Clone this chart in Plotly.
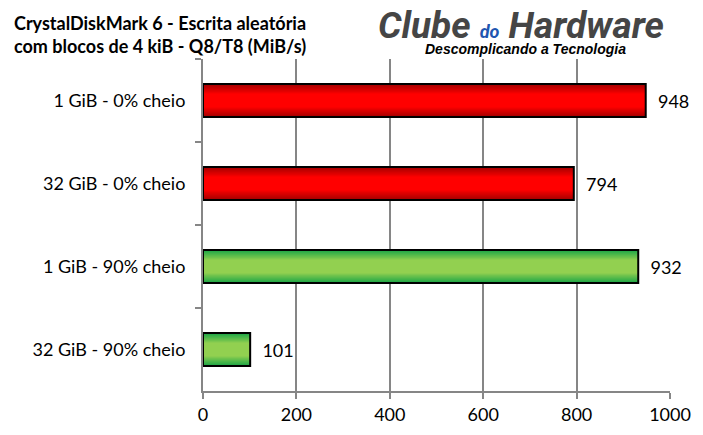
import plotly.graph_objects as go

categories = ["1 GiB - 0% cheio", "32 GiB - 0% cheio", "1 GiB - 90% cheio", "32 GiB - 90% cheio"]
values = [948, 794, 932, 101]
groups = ["red", "red", "green", "green"]
x_ticks = [0, 200, 400, 600, 800, 1000]

# gradient palettes (edge -> centre)
edge = {"red": (165, 0, 0), "green": (28, 165, 70)}
centre = {"red": (255, 0, 0), "green": (146, 208, 80)}

FONT = "Lato, Carlito, Calibri, sans-serif"
BAR_W = 0.4

# page body has an 8px margin, so the figure is sized to the remaining area
W, H = 703 - 8, 435 - 8
PL, PR, PT, PB = 203, 670, 59, 391  # plot area in reference pixels

fig = go.Figure()

n_layers = 12
for i in range(n_layers):
    t = i / (n_layers - 1)
    w = BAR_W * (1 - t * 0.6)
    f = t
    cols = []
    for g in groups:
        e, c = edge[g], centre[g]
        rgb = tuple(round(e[k] + (c[k] - e[k]) * f) for k in range(3))
        cols.append("rgb(%d,%d,%d)" % rgb)
    fig.add_trace(go.Bar(
        x=values, y=categories, orientation="h", width=w,
        marker=dict(color=cols, line=dict(width=0)),
        hoverinfo="skip", showlegend=False,
    ))

fig.add_trace(go.Bar(
    x=values, y=categories, orientation="h", width=BAR_W,
    marker=dict(color="rgba(0,0,0,0)", line=dict(color="black", width=2)),
    text=["  " + str(v) for v in values], textposition="outside",
    textfont=dict(family=FONT, size=18, color="black"),
    cliponaxis=False, showlegend=False,
))

def px(x):
    return (x - PL) / (PR - PL)

def py(y):
    return (PB - y) / (PB - PT)

fig.update_layout(
    width=W, height=H,
    barmode="overlay",
    plot_bgcolor="white", paper_bgcolor="white",
    margin=dict(l=PL - 8, r=W - (PR - 8), t=PT - 8, b=H - (PB - 8), autoexpand=False),
    font=dict(family=FONT, size=16, color="black"),
    xaxis=dict(
        range=[0, 1000], tickvals=x_ticks, showgrid=True,
        gridcolor="#868686", gridwidth=2,
        showline=True, linecolor="#868686", linewidth=2,
        ticks="outside", ticklen=6, tickcolor="#868686", tickwidth=2,
        tickfont=dict(family=FONT, size=18, color="black"),
        zeroline=False, automargin=False,
    ),
    yaxis=dict(
        autorange="reversed", showgrid=False,
        showline=True, linecolor="#868686", linewidth=2,
        ticks="outside", tickson="boundaries", ticklen=6, tickcolor="#868686", tickwidth=2,
        tickfont=dict(family=FONT, size=18, color="black"),
        ticklabelstandoff=12, automargin=False,
    ),
    annotations=[
        dict(
            xref="paper", yref="paper", x=px(160), y=py(35),
            xanchor="center", yanchor="middle", showarrow=False,
            text="<b>CrystalDiskMark 6 - Escrita aleatória<br>com blocos de 4 kiB - Q8/T8 (MiB/s)</b>",
            font=dict(family=FONT, size=18, color="black"),
        ),
        dict(
            xref="paper", yref="paper", x=px(521), y=py(25),
            xanchor="center", yanchor="middle", showarrow=False,
            text="<b><i>Clube <span style='font-size:18px;color:#1f56b0'>do</span> Hardware</i></b>",
            font=dict(family="Roboto, sans-serif", size=37, color="#454545", weight=900, style="italic"),
        ),
        dict(
            xref="paper", yref="paper", x=px(525), y=py(49),
            xanchor="center", yanchor="middle", showarrow=False,
            text="<b><i>Descomplicando a Tecnologia</i></b>",
            font=dict(family="Liberation Sans, Arial, sans-serif", size=14, color="black"),
        ),
    ],
)

fig.write_html("out.html")
